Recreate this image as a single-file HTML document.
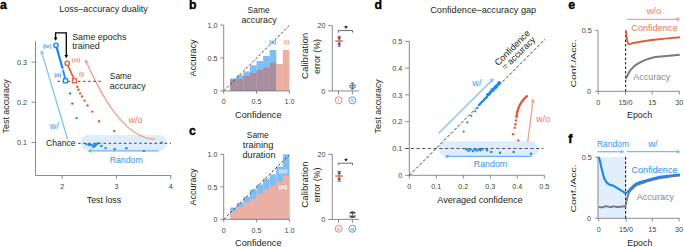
<!DOCTYPE html>
<html><head><meta charset="utf-8"><style>
html,body{margin:0;padding:0;background:#fff;}
svg{display:block;font-family:"Liberation Sans", sans-serif;}
</style></head><body>
<svg width="685" height="247" viewBox="0 0 685 247">
<rect width="685" height="247" fill="#fff"/>
<text x="0" y="8.6" font-size="12.3" fill="#000" text-anchor="start" font-weight="bold" stroke="#000" stroke-width="0.35">a</text>
<text x="103.5" y="12.4" font-size="9" fill="#231f20" text-anchor="middle" textLength="88.5" lengthAdjust="spacingAndGlyphs" >Loss–accuracy duality</text>
<text x="8.8" y="106.3" font-size="8.6" fill="#231f20" text-anchor="middle" textLength="54.2" lengthAdjust="spacingAndGlyphs" transform="rotate(-90 8.8 106.3)" >Test accuracy</text>
<line x1="35.5" y1="41" x2="35.5" y2="175.5" stroke="#6d6e71" stroke-width="0.8" />
<line x1="35.5" y1="175.5" x2="171" y2="175.5" stroke="#6d6e71" stroke-width="0.8" />
<line x1="31.5" y1="62" x2="35.5" y2="62" stroke="#6d6e71" stroke-width="0.8" />
<text x="27" y="64.6" font-size="7.2" fill="#414042" text-anchor="end" >0.3</text>
<line x1="31.5" y1="102.2" x2="35.5" y2="102.2" stroke="#6d6e71" stroke-width="0.8" />
<text x="27" y="104.8" font-size="7.2" fill="#414042" text-anchor="end" >0.2</text>
<line x1="31.5" y1="142.5" x2="35.5" y2="142.5" stroke="#6d6e71" stroke-width="0.8" />
<text x="27" y="145.1" font-size="7.2" fill="#414042" text-anchor="end" >0.1</text>
<line x1="62.2" y1="175.5" x2="62.2" y2="179" stroke="#6d6e71" stroke-width="0.8" />
<text x="62.2" y="189.3" font-size="7.2" fill="#414042" text-anchor="middle" >2</text>
<line x1="116.4" y1="175.5" x2="116.4" y2="179" stroke="#6d6e71" stroke-width="0.8" />
<text x="116.4" y="189.3" font-size="7.2" fill="#414042" text-anchor="middle" >3</text>
<line x1="170.7" y1="175.5" x2="170.7" y2="179" stroke="#6d6e71" stroke-width="0.8" />
<text x="170.7" y="189.3" font-size="7.2" fill="#414042" text-anchor="middle" >4</text>
<text x="104" y="202.9" font-size="8.8" fill="#231f20" text-anchor="middle" textLength="34.5" lengthAdjust="spacingAndGlyphs" >Test loss</text>
<rect x="80.5" y="135" width="86.5" height="15.8" rx="7.9" fill="#ddedfc"/>
<line x1="78" y1="143.3" x2="171" y2="143.3" stroke="#444" stroke-width="1.0" stroke-dasharray="2.5 2.6" />
<text x="46" y="146.3" font-size="9" fill="#231f20" text-anchor="start" textLength="29.5" lengthAdjust="spacingAndGlyphs" >Chance</text>
<line x1="158.5" y1="150.9" x2="89.84" y2="150.9" stroke="#6cb0f3" stroke-width="1.3" />
<path d="M87.50,150.90 L91.40,148.75 L91.40,153.05 Z" fill="#6cb0f3"/>
<text x="126.2" y="162.6" font-size="9" fill="#3195f0" text-anchor="middle" textLength="33" lengthAdjust="spacingAndGlyphs" >Random</text>
<line x1="67.6" y1="139.2" x2="41.78418508942997" y2="52.40041099880037" stroke="#8cc3f5" stroke-width="1.4" />
<path d="M41.10,50.10 L44.35,53.31 L40.13,54.56 Z" fill="#8cc3f5"/>
<text x="49.8" y="129.3" font-size="9" fill="#3d9cf2" text-anchor="start" textLength="9.2" lengthAdjust="spacingAndGlyphs" >w/</text>
<path d="M86.2,61.6 C98.3,88.3 121.8,138.5 155.3,139.4" stroke="#f0a592" stroke-width="1.35" fill="none" />
<path d="M85.10,59.10 L88.75,61.84 L84.74,63.65 Z" fill="#f0a592"/>
<text x="128.5" y="122.5" font-size="9" fill="#e77b5f" text-anchor="start" >w/o</text>
<path d="M56.6,47.4 L62.7,68.8" stroke="#1a86ee" stroke-width="2.2" fill="none" />
<circle cx="63.2" cy="70.8" r="1.1" fill="#1a86ee"/>
<circle cx="63.625" cy="72.5" r="1.1" fill="#1a86ee"/>
<circle cx="64.05000000000001" cy="74.19999999999999" r="1.1" fill="#1a86ee"/>
<circle cx="64.47500000000001" cy="75.89999999999999" r="1.1" fill="#1a86ee"/>
<circle cx="64.9" cy="77.6" r="1.1" fill="#1a86ee"/>
<path d="M67.8,65.4 L73.9,78.6" stroke="#e35b3b" stroke-width="1.7" fill="none" />
<circle cx="56.0" cy="45.3" r="2.2" fill="white" stroke="#1a86ee" stroke-width="1.4"/>
<circle cx="67.2" cy="63.3" r="2.2" fill="white" stroke="#e35b3b" stroke-width="1.4"/>
<line x1="57.5" y1="81.3" x2="103.3" y2="81.3" stroke="#444" stroke-width="1.0" stroke-dasharray="2.5 2.6" />
<rect x="63.5" y="78.8" width="4" height="4" fill="white" stroke="#1a86ee" stroke-width="1.3"/>
<rect x="72.4" y="78.8" width="4" height="4" fill="white" stroke="#e35b3b" stroke-width="1.3"/>
<text x="47.1" y="47.9" font-size="5.6" fill="#3597f0" text-anchor="middle" font-weight="bold" >(iv)</text>
<text x="57.6" y="76.8" font-size="5.6" fill="#3597f0" text-anchor="middle" font-weight="bold" >(ii)</text>
<text x="76.2" y="61.6" font-size="5.6" fill="#e8846a" text-anchor="middle" font-weight="bold" >(iii)</text>
<text x="81.6" y="76.3" font-size="5.6" fill="#e8846a" text-anchor="middle" font-weight="bold" >(i)</text>
<path d="M55.6,39 L55.6,32.8 L66.3,32.8 L66.3,56" stroke="#000" stroke-width="1.3" fill="none" />
<path d="M55.60,40.80 L53.70,37.60 L57.50,37.60 Z" fill="#000"/>
<path d="M66.30,58.20 L64.40,55.00 L68.20,55.00 Z" fill="#000"/>
<text x="72.2" y="39.6" font-size="8.6" fill="#231f20" text-anchor="start" textLength="54.3" lengthAdjust="spacingAndGlyphs" >Same epochs</text>
<text x="72.2" y="49.4" font-size="8.6" fill="#231f20" text-anchor="start" textLength="27.6" lengthAdjust="spacingAndGlyphs" >trained</text>
<text x="109.8" y="78.5" font-size="9" fill="#231f20" text-anchor="start" textLength="22" lengthAdjust="spacingAndGlyphs" >Same</text>
<text x="109.8" y="88.7" font-size="9" fill="#231f20" text-anchor="start" textLength="36" lengthAdjust="spacingAndGlyphs" >accuracy</text>
<circle cx="77.3" cy="86.8" r="1.2" fill="#e35b3b"/>
<circle cx="78.5" cy="89.7" r="1.2" fill="#e35b3b"/>
<circle cx="80.2" cy="93.4" r="1.2" fill="#e35b3b"/>
<circle cx="82.1" cy="96.5" r="1.2" fill="#e35b3b"/>
<circle cx="84.6" cy="100.6" r="1.2" fill="#e35b3b"/>
<circle cx="87.5" cy="105.5" r="1.2" fill="#e35b3b"/>
<circle cx="92.3" cy="111.6" r="1.2" fill="#e35b3b"/>
<circle cx="99.1" cy="121.3" r="1.2" fill="#e35b3b"/>
<circle cx="114.2" cy="131" r="1.2" fill="#e35b3b"/>
<circle cx="70" cy="93.4" r="1.2" fill="#1a86ee"/>
<circle cx="72.4" cy="103.6" r="1.2" fill="#1a86ee"/>
<circle cx="76.6" cy="118.1" r="1.2" fill="#1a86ee"/>
<circle cx="86.3" cy="144.1" r="1.2" fill="#1a86ee"/>
<circle cx="88.7" cy="144.7" r="1.2" fill="#1a86ee"/>
<circle cx="91.4" cy="145" r="1.2" fill="#1a86ee"/>
<circle cx="93.2" cy="146.9" r="1.2" fill="#1a86ee"/>
<circle cx="95" cy="146" r="1.2" fill="#1a86ee"/>
<circle cx="97.8" cy="143.2" r="1.2" fill="#1a86ee"/>
<circle cx="101.4" cy="146" r="1.2" fill="#1a86ee"/>
<circle cx="105.6" cy="148.1" r="1.2" fill="#1a86ee"/>
<circle cx="114.7" cy="149.2" r="1.2" fill="#1a86ee"/>
<circle cx="126.4" cy="148.3" r="1.2" fill="#1a86ee"/>
<circle cx="143.9" cy="150.9" r="1.2" fill="#1a86ee"/>
<circle cx="161.5" cy="142.7" r="1.2" fill="#1a86ee"/>
<circle cx="89.8" cy="144.2" r="1.2" fill="#1a86ee"/>
<circle cx="94.2" cy="145.0" r="1.2" fill="#1a86ee"/>
<circle cx="96.5" cy="144.5" r="1.2" fill="#1a86ee"/>
<text x="189.0" y="8.6" font-size="12.3" fill="#000" text-anchor="start" font-weight="bold" stroke="#000" stroke-width="0.35">b</text>
<text x="258.6" y="12.5" font-size="9" fill="#231f20" text-anchor="middle" textLength="22" lengthAdjust="spacingAndGlyphs" >Same</text>
<text x="259.1" y="22.8" font-size="9" fill="#231f20" text-anchor="middle" textLength="35.3" lengthAdjust="spacingAndGlyphs" >accuracy</text>
<rect x="230.27" y="78.4" width="6.62" height="12.50" fill="#80bdf4"/>
<rect x="236.84" y="75" width="6.62" height="15.90" fill="#80bdf4"/>
<rect x="243.41" y="71.5" width="6.62" height="19.40" fill="#80bdf4"/>
<rect x="249.98" y="65.3" width="6.62" height="25.60" fill="#80bdf4"/>
<rect x="256.55" y="61" width="6.62" height="29.90" fill="#80bdf4"/>
<rect x="263.12" y="56" width="6.62" height="34.90" fill="#80bdf4"/>
<rect x="269.69" y="50" width="6.62" height="40.90" fill="#80bdf4"/>
<rect x="230.27" y="79.5" width="6.62" height="11.40" fill="#a88e9f"/>
<rect x="236.84" y="78.8" width="6.62" height="12.10" fill="#a88e9f"/>
<rect x="243.41" y="75.8" width="6.62" height="15.10" fill="#a88e9f"/>
<rect x="249.98" y="73" width="6.62" height="17.90" fill="#a88e9f"/>
<rect x="256.55" y="70" width="6.62" height="20.90" fill="#a88e9f"/>
<rect x="263.12" y="67.5" width="6.62" height="23.40" fill="#a88e9f"/>
<rect x="269.69" y="62.7" width="6.62" height="28.20" fill="#a88e9f"/>
<rect x="276.26" y="63.9" width="6.62" height="27.00" fill="#edafa1"/>
<rect x="282.83" y="50" width="6.62" height="40.90" fill="#edafa1"/>
<line x1="223.7" y1="90.9" x2="289.09999999999997" y2="25.6" stroke="#444" stroke-width="1.0" stroke-dasharray="2.6 1.9" />
<line x1="223.7" y1="25.0" x2="223.7" y2="90.9" stroke="#6d6e71" stroke-width="0.8" />
<line x1="223.7" y1="90.9" x2="289.4" y2="90.9" stroke="#6d6e71" stroke-width="0.8" />
<line x1="220.2" y1="25.0" x2="223.7" y2="25.0" stroke="#6d6e71" stroke-width="0.8" />
<text x="217.6" y="27.6" font-size="7.2" fill="#414042" text-anchor="end" >1.0</text>
<line x1="220.2" y1="57.95" x2="223.7" y2="57.95" stroke="#6d6e71" stroke-width="0.8" />
<text x="217.6" y="60.550000000000004" font-size="7.2" fill="#414042" text-anchor="end" >0.5</text>
<line x1="220.2" y1="90.9" x2="223.7" y2="90.9" stroke="#6d6e71" stroke-width="0.8" />
<text x="217.6" y="93.5" font-size="7.2" fill="#414042" text-anchor="end" >0</text>
<line x1="223.7" y1="90.9" x2="223.7" y2="93.9" stroke="#6d6e71" stroke-width="0.8" />
<text x="223.7" y="104.10000000000001" font-size="7.2" fill="#414042" text-anchor="middle" >0</text>
<line x1="256.54999999999995" y1="90.9" x2="256.54999999999995" y2="93.9" stroke="#6d6e71" stroke-width="0.8" />
<text x="256.54999999999995" y="104.10000000000001" font-size="7.2" fill="#414042" text-anchor="middle" >0.5</text>
<line x1="289.4" y1="90.9" x2="289.4" y2="93.9" stroke="#6d6e71" stroke-width="0.8" />
<text x="289.4" y="104.10000000000001" font-size="7.2" fill="#414042" text-anchor="middle" >1.0</text>
<text x="196.4" y="57.95" font-size="8.6" fill="#231f20" text-anchor="middle" textLength="37.2" lengthAdjust="spacingAndGlyphs" transform="rotate(-90 196.4 57.95)" >Accuracy</text>
<text x="258.3" y="117.7" font-size="9" fill="#231f20" text-anchor="middle" textLength="46.5" lengthAdjust="spacingAndGlyphs" >Confidence</text>
<text x="272.7" y="44.4" font-size="5.6" fill="#3d9cf2" text-anchor="middle" font-weight="bold" >(ii)</text>
<text x="286.7" y="44.4" font-size="5.6" fill="#ea8a70" text-anchor="middle" font-weight="bold" >(i)</text>
<line x1="332.3" y1="25.6" x2="332.3" y2="90.9" stroke="#6d6e71" stroke-width="0.8" />
<line x1="328.2" y1="25.6" x2="332.3" y2="25.6" stroke="#6d6e71" stroke-width="0.8" />
<line x1="327.9" y1="90.9" x2="359.1" y2="90.9" stroke="#6d6e71" stroke-width="0.8" />
<text x="325.6" y="28.200000000000003" font-size="7.2" fill="#414042" text-anchor="end" >20</text>
<text x="325.2" y="93.5" font-size="7.2" fill="#414042" text-anchor="end" >0</text>
<line x1="338.5" y1="90.9" x2="338.5" y2="94.4" stroke="#6d6e71" stroke-width="0.8" />
<line x1="352.4" y1="90.9" x2="352.4" y2="94.4" stroke="#6d6e71" stroke-width="0.8" />
<circle cx="338.7" cy="100.30000000000001" r="3.5" fill="none" stroke="#ea8a70" stroke-width="1.0"/>
<circle cx="352.3" cy="100.30000000000001" r="3.5" fill="none" stroke="#4aa0f0" stroke-width="1.0"/>
<text x="338.7" y="102.10000000000001" font-size="4.6" fill="#ea8a70" text-anchor="middle" font-weight="bold" textLength="1.3" lengthAdjust="spacingAndGlyphs" >i</text>
<text x="352.3" y="102.10000000000001" font-size="4.6" fill="#4aa0f0" text-anchor="middle" font-weight="bold" textLength="2.4" lengthAdjust="spacingAndGlyphs" >ii</text>
<path d="M338.3,32.6 L338.3,30.6 L352.5,30.6 L352.5,32.6" stroke="#444" stroke-width="0.8" fill="none" />
<polygon points="346.00,25.00 346.53,26.37 348.00,26.45 346.86,27.38 347.23,28.80 346.00,28.00 344.77,28.80 345.14,27.38 344.00,26.45 345.47,26.37" fill="#222"/>
<line x1="339.2" y1="36.4" x2="339.2" y2="46.3" stroke="#555" stroke-width="0.8" />
<line x1="337.4" y1="36.4" x2="341.0" y2="36.4" stroke="#555" stroke-width="0.8" />
<line x1="337.4" y1="46.3" x2="341.0" y2="46.3" stroke="#555" stroke-width="0.8" />
<line x1="337.8" y1="37.8" x2="340.6" y2="37.8" stroke="#333" stroke-width="0.9" />
<line x1="337.8" y1="38.8" x2="340.6" y2="38.8" stroke="#333" stroke-width="0.9" />
<line x1="337.8" y1="43.2" x2="340.6" y2="43.2" stroke="#333" stroke-width="0.9" />
<line x1="337.8" y1="44.4" x2="340.6" y2="44.4" stroke="#333" stroke-width="0.9" />
<line x1="335.2" y1="41.0" x2="343.0" y2="41.0" stroke="#e35b3b" stroke-width="1.3" />
<line x1="352.5" y1="83.2" x2="352.5" y2="89.10000000000001" stroke="#555" stroke-width="0.8" />
<line x1="350.8" y1="83.2" x2="354.2" y2="83.2" stroke="#333" stroke-width="0.9" />
<line x1="350.8" y1="88.8" x2="354.2" y2="88.8" stroke="#333" stroke-width="0.9" />
<line x1="349.2" y1="85.3" x2="355.9" y2="85.3" stroke="#1a86ee" stroke-width="1.1" />
<line x1="349.2" y1="87.10000000000001" x2="355.9" y2="87.10000000000001" stroke="#1a86ee" stroke-width="1.1" />
<text x="308.5" y="55.95" font-size="8.4" fill="#231f20" text-anchor="middle" textLength="46.3" lengthAdjust="spacingAndGlyphs" transform="rotate(-90 308.5 55.95)" >Calibration</text>
<text x="319.6" y="56.45" font-size="8.4" fill="#231f20" text-anchor="middle" textLength="35" lengthAdjust="spacingAndGlyphs" transform="rotate(-90 319.6 56.45)" >error (%)</text>
<text x="189.0" y="134.8" font-size="12.3" fill="#000" text-anchor="start" font-weight="bold" stroke="#000" stroke-width="0.35">c</text>
<text x="257.8" y="137.7" font-size="9" fill="#231f20" text-anchor="middle" textLength="22" lengthAdjust="spacingAndGlyphs" >Same</text>
<text x="258.1" y="147.7" font-size="9" fill="#231f20" text-anchor="middle" textLength="30.6" lengthAdjust="spacingAndGlyphs" >training</text>
<text x="259.0" y="157.7" font-size="9" fill="#231f20" text-anchor="middle" textLength="33" lengthAdjust="spacingAndGlyphs" >duration</text>
<rect x="230.27" y="207.5" width="6.62" height="11.80" fill="#80bdf4"/>
<rect x="236.84" y="202.7" width="6.62" height="16.60" fill="#80bdf4"/>
<rect x="243.41" y="196.6" width="6.62" height="22.70" fill="#80bdf4"/>
<rect x="249.98" y="189.5" width="6.62" height="29.80" fill="#80bdf4"/>
<rect x="256.55" y="184.5" width="6.62" height="34.80" fill="#80bdf4"/>
<rect x="263.12" y="178.6" width="6.62" height="40.70" fill="#80bdf4"/>
<rect x="269.69" y="174.4" width="6.62" height="44.90" fill="#80bdf4"/>
<rect x="276.26" y="166.5" width="6.62" height="52.80" fill="#80bdf4"/>
<rect x="282.83" y="154.3" width="6.62" height="65.00" fill="#80bdf4"/>
<rect x="230.27" y="210.9" width="6.62" height="8.40" fill="#edafa1"/>
<rect x="236.84" y="207" width="6.62" height="12.30" fill="#edafa1"/>
<rect x="243.41" y="202.6" width="6.62" height="16.70" fill="#edafa1"/>
<rect x="249.98" y="199" width="6.62" height="20.30" fill="#edafa1"/>
<rect x="256.55" y="193.8" width="6.62" height="25.50" fill="#edafa1"/>
<rect x="263.12" y="189.2" width="6.62" height="30.10" fill="#edafa1"/>
<rect x="269.69" y="185.6" width="6.62" height="33.70" fill="#edafa1"/>
<rect x="276.26" y="181.3" width="6.62" height="38.00" fill="#edafa1"/>
<rect x="282.83" y="175.8" width="6.62" height="43.50" fill="#edafa1"/>
<line x1="223.7" y1="219.3" x2="289.09999999999997" y2="155.2" stroke="#444" stroke-width="1.0" stroke-dasharray="2.6 1.9" />
<line x1="223.7" y1="154.6" x2="223.7" y2="219.3" stroke="#6d6e71" stroke-width="0.8" />
<line x1="223.7" y1="219.3" x2="289.4" y2="219.3" stroke="#6d6e71" stroke-width="0.8" />
<line x1="220.2" y1="154.6" x2="223.7" y2="154.6" stroke="#6d6e71" stroke-width="0.8" />
<text x="217.6" y="157.2" font-size="7.2" fill="#414042" text-anchor="end" >1.0</text>
<line x1="220.2" y1="186.95" x2="223.7" y2="186.95" stroke="#6d6e71" stroke-width="0.8" />
<text x="217.6" y="189.54999999999998" font-size="7.2" fill="#414042" text-anchor="end" >0.5</text>
<line x1="220.2" y1="219.3" x2="223.7" y2="219.3" stroke="#6d6e71" stroke-width="0.8" />
<text x="217.6" y="221.9" font-size="7.2" fill="#414042" text-anchor="end" >0</text>
<line x1="223.7" y1="219.3" x2="223.7" y2="222.3" stroke="#6d6e71" stroke-width="0.8" />
<text x="223.7" y="232.5" font-size="7.2" fill="#414042" text-anchor="middle" >0</text>
<line x1="256.54999999999995" y1="219.3" x2="256.54999999999995" y2="222.3" stroke="#6d6e71" stroke-width="0.8" />
<text x="256.54999999999995" y="232.5" font-size="7.2" fill="#414042" text-anchor="middle" >0.5</text>
<line x1="289.4" y1="219.3" x2="289.4" y2="222.3" stroke="#6d6e71" stroke-width="0.8" />
<text x="289.4" y="232.5" font-size="7.2" fill="#414042" text-anchor="middle" >1.0</text>
<text x="196.4" y="186.95" font-size="8.6" fill="#231f20" text-anchor="middle" textLength="37.2" lengthAdjust="spacingAndGlyphs" transform="rotate(-90 196.4 186.95)" >Accuracy</text>
<text x="258.3" y="246.10000000000002" font-size="9" fill="#231f20" text-anchor="middle" textLength="46.5" lengthAdjust="spacingAndGlyphs" >Confidence</text>
<text x="282.9" y="172.5" font-size="5.6" fill="white" text-anchor="middle" font-weight="bold" >(iv)</text>
<text x="282.9" y="189.3" font-size="5.6" fill="white" text-anchor="middle" font-weight="bold" >(iii)</text>
<line x1="332.3" y1="154.3" x2="332.3" y2="219.4" stroke="#6d6e71" stroke-width="0.8" />
<line x1="328.2" y1="154.3" x2="332.3" y2="154.3" stroke="#6d6e71" stroke-width="0.8" />
<line x1="327.9" y1="219.4" x2="359.1" y2="219.4" stroke="#6d6e71" stroke-width="0.8" />
<text x="325.6" y="156.9" font-size="7.2" fill="#414042" text-anchor="end" >20</text>
<text x="325.2" y="222.0" font-size="7.2" fill="#414042" text-anchor="end" >0</text>
<line x1="338.5" y1="219.4" x2="338.5" y2="222.9" stroke="#6d6e71" stroke-width="0.8" />
<line x1="352.4" y1="219.4" x2="352.4" y2="222.9" stroke="#6d6e71" stroke-width="0.8" />
<circle cx="338.7" cy="228.8" r="3.5" fill="none" stroke="#ea8a70" stroke-width="1.0"/>
<circle cx="352.3" cy="228.8" r="3.5" fill="none" stroke="#4aa0f0" stroke-width="1.0"/>
<text x="338.7" y="230.6" font-size="4.6" fill="#ea8a70" text-anchor="middle" font-weight="bold" textLength="3.6" lengthAdjust="spacingAndGlyphs" >iii</text>
<text x="352.3" y="230.6" font-size="4.6" fill="#4aa0f0" text-anchor="middle" font-weight="bold" textLength="3.6" lengthAdjust="spacingAndGlyphs" >iv</text>
<path d="M338.3,165.20000000000002 L338.3,163.20000000000002 L352.5,163.20000000000002 L352.5,165.20000000000002" stroke="#444" stroke-width="0.8" fill="none" />
<polygon points="346.00,157.60 346.53,158.97 348.00,159.05 346.86,159.98 347.23,161.40 346.00,160.60 344.77,161.40 345.14,159.98 344.00,159.05 345.47,158.97" fill="#222"/>
<line x1="339.2" y1="171.4" x2="339.2" y2="181.3" stroke="#555" stroke-width="0.8" />
<line x1="337.4" y1="171.4" x2="341.0" y2="171.4" stroke="#555" stroke-width="0.8" />
<line x1="337.4" y1="181.3" x2="341.0" y2="181.3" stroke="#555" stroke-width="0.8" />
<line x1="337.8" y1="172.8" x2="340.6" y2="172.8" stroke="#333" stroke-width="0.9" />
<line x1="337.8" y1="173.8" x2="340.6" y2="173.8" stroke="#333" stroke-width="0.9" />
<line x1="337.8" y1="178.2" x2="340.6" y2="178.2" stroke="#333" stroke-width="0.9" />
<line x1="337.8" y1="179.4" x2="340.6" y2="179.4" stroke="#333" stroke-width="0.9" />
<line x1="335.2" y1="176.0" x2="343.0" y2="176.0" stroke="#e35b3b" stroke-width="1.3" />
<line x1="352.5" y1="211.8" x2="352.5" y2="217.70000000000002" stroke="#555" stroke-width="0.8" />
<line x1="350.8" y1="211.8" x2="354.2" y2="211.8" stroke="#333" stroke-width="0.9" />
<line x1="350.8" y1="217.4" x2="354.2" y2="217.4" stroke="#333" stroke-width="0.9" />
<line x1="349.6" y1="212.9" x2="355.4" y2="212.9" stroke="#444" stroke-width="1.5" />
<line x1="349.6" y1="216.60000000000002" x2="355.4" y2="216.60000000000002" stroke="#444" stroke-width="1.6" />
<line x1="349.2" y1="215.8" x2="355.8" y2="215.8" stroke="#4a9ef0" stroke-width="0.9" />
<text x="308.5" y="184.55" font-size="8.4" fill="#231f20" text-anchor="middle" textLength="46.3" lengthAdjust="spacingAndGlyphs" transform="rotate(-90 308.5 184.55)" >Calibration</text>
<text x="319.6" y="185.05" font-size="8.4" fill="#231f20" text-anchor="middle" textLength="35" lengthAdjust="spacingAndGlyphs" transform="rotate(-90 319.6 185.05)" >error (%)</text>
<text x="374.6" y="8.6" font-size="12.3" fill="#000" text-anchor="start" font-weight="bold" stroke="#000" stroke-width="0.35">d</text>
<text x="483.2" y="12.7" font-size="9" fill="#231f20" text-anchor="middle" textLength="106" lengthAdjust="spacingAndGlyphs" >Confidence–accuracy gap</text>
<line x1="409.3" y1="41.3" x2="409.3" y2="175.3" stroke="#6d6e71" stroke-width="0.8" />
<line x1="409.3" y1="175.3" x2="544.4" y2="175.3" stroke="#6d6e71" stroke-width="0.8" />
<line x1="405.2" y1="175.3" x2="409.3" y2="175.3" stroke="#6d6e71" stroke-width="0.8" />
<text x="402.2" y="177.9" font-size="7.2" fill="#414042" text-anchor="end" >0</text>
<line x1="409.3" y1="175.3" x2="409.3" y2="178.5" stroke="#6d6e71" stroke-width="0.8" />
<text x="409.3" y="188.8" font-size="7.2" fill="#414042" text-anchor="middle" >0</text>
<line x1="405.2" y1="148.5" x2="409.3" y2="148.5" stroke="#6d6e71" stroke-width="0.8" />
<text x="402.2" y="151.1" font-size="7.2" fill="#414042" text-anchor="end" >0.1</text>
<line x1="436.3" y1="175.3" x2="436.3" y2="178.5" stroke="#6d6e71" stroke-width="0.8" />
<text x="436.3" y="188.8" font-size="7.2" fill="#414042" text-anchor="middle" >0.1</text>
<line x1="405.2" y1="121.70000000000002" x2="409.3" y2="121.70000000000002" stroke="#6d6e71" stroke-width="0.8" />
<text x="402.2" y="124.30000000000001" font-size="7.2" fill="#414042" text-anchor="end" >0.2</text>
<line x1="463.3" y1="175.3" x2="463.3" y2="178.5" stroke="#6d6e71" stroke-width="0.8" />
<text x="463.3" y="188.8" font-size="7.2" fill="#414042" text-anchor="middle" >0.2</text>
<line x1="405.2" y1="94.9" x2="409.3" y2="94.9" stroke="#6d6e71" stroke-width="0.8" />
<text x="402.2" y="97.5" font-size="7.2" fill="#414042" text-anchor="end" >0.3</text>
<line x1="490.3" y1="175.3" x2="490.3" y2="178.5" stroke="#6d6e71" stroke-width="0.8" />
<text x="490.3" y="188.8" font-size="7.2" fill="#414042" text-anchor="middle" >0.3</text>
<line x1="405.2" y1="68.10000000000001" x2="409.3" y2="68.10000000000001" stroke="#6d6e71" stroke-width="0.8" />
<text x="402.2" y="70.7" font-size="7.2" fill="#414042" text-anchor="end" >0.4</text>
<line x1="517.3" y1="175.3" x2="517.3" y2="178.5" stroke="#6d6e71" stroke-width="0.8" />
<text x="517.3" y="188.8" font-size="7.2" fill="#414042" text-anchor="middle" >0.4</text>
<line x1="405.2" y1="41.30000000000001" x2="409.3" y2="41.30000000000001" stroke="#6d6e71" stroke-width="0.8" />
<text x="402.2" y="43.90000000000001" font-size="7.2" fill="#414042" text-anchor="end" >0.5</text>
<line x1="544.3" y1="175.3" x2="544.3" y2="178.5" stroke="#6d6e71" stroke-width="0.8" />
<text x="544.3" y="188.8" font-size="7.2" fill="#414042" text-anchor="middle" >0.5</text>
<text x="381.4" y="106.3" font-size="8.6" fill="#231f20" text-anchor="middle" textLength="54.2" lengthAdjust="spacingAndGlyphs" transform="rotate(-90 381.4 106.3)" >Test accuracy</text>
<text x="480" y="202.6" font-size="9" fill="#231f20" text-anchor="middle" textLength="85.3" lengthAdjust="spacingAndGlyphs" >Averaged confidence</text>
<rect x="438.5" y="141.2" width="100.4" height="15.3" rx="7.65" fill="#ddedfc"/>
<line x1="405" y1="148.5" x2="543.5" y2="148.5" stroke="#555" stroke-width="1.0" stroke-dasharray="3.3 2.4" />
<line x1="409.3" y1="175.3" x2="545" y2="39.3" stroke="#3a3a3a" stroke-width="1.0" stroke-dasharray="3 1.9" />
<line x1="531.8" y1="156.4" x2="446.84" y2="156.4" stroke="#6cb0f3" stroke-width="1.3" />
<path d="M444.50,156.40 L448.40,154.25 L448.40,158.55 Z" fill="#6cb0f3"/>
<text x="490.5" y="166.7" font-size="9" fill="#3195f0" text-anchor="middle" textLength="33.5" lengthAdjust="spacingAndGlyphs" >Random</text>
<line x1="438.5" y1="133.5" x2="492.2148773771709" y2="79.9786897485126" stroke="#8cc3f5" stroke-width="1.45" />
<path d="M494.00,78.20 L492.66,82.80 L489.39,79.53 Z" fill="#8cc3f5"/>
<text x="472.3" y="85.9" font-size="9" fill="#3d9cf2" text-anchor="start" textLength="9.2" lengthAdjust="spacingAndGlyphs" >w/</text>
<line x1="527.7" y1="142.4" x2="532.9983391064285" y2="100.58096633854612" stroke="#f0a592" stroke-width="1.35" />
<path d="M533.30,98.20 L534.98,102.44 L530.61,101.89 Z" fill="#f0a592"/>
<text x="536.3" y="122.3" font-size="9" fill="#e77b5f" text-anchor="start" >w/o</text>
<text x="514.4" y="50.0" font-size="9" fill="#231f20" text-anchor="middle" textLength="46" lengthAdjust="spacingAndGlyphs" transform="rotate(-45 514.4 50.0)" >Confidence</text>
<text x="520.7" y="55.4" font-size="9" fill="#231f20" text-anchor="middle" textLength="43" lengthAdjust="spacingAndGlyphs" transform="rotate(-45 520.7 55.4)" >= accuracy</text>
<circle cx="463.7" cy="131.6" r="1.1" fill="#1a86ee"/>
<circle cx="467.4" cy="122.4" r="1.1" fill="#1a86ee"/>
<circle cx="471.3" cy="115.8" r="1.1" fill="#1a86ee"/>
<circle cx="475.3" cy="111.3" r="1.1" fill="#1a86ee"/>
<circle cx="477.4" cy="107.9" r="1.1" fill="#1a86ee"/>
<circle cx="478.72" cy="105.25940000000001" r="1.1" fill="#1a86ee"/>
<circle cx="479.42218362168245" cy="104.54364813781153" r="1.1" fill="#1a86ee"/>
<circle cx="480.07468134913023" cy="103.77821038138829" r="1.1" fill="#1a86ee"/>
<circle cx="480.83823691469667" cy="103.12383046308376" r="1.1" fill="#1a86ee"/>
<circle cx="481.4522247372087" cy="102.3198828017249" r="1.1" fill="#1a86ee"/>
<circle cx="482.1775546883798" cy="101.62727726902494" r="1.1" fill="#1a86ee"/>
<circle cx="482.96077709468005" cy="100.99256419145428" r="1.1" fill="#1a86ee"/>
<circle cx="483.5112852514909" cy="100.12513686439418" r="1.1" fill="#1a86ee"/>
<circle cx="484.38251785445146" cy="99.5784339834837" r="1.1" fill="#1a86ee"/>
<circle cx="484.9132151878851" cy="98.69119583304646" r="1.1" fill="#1a86ee"/>
<circle cx="485.7820718218372" cy="98.14211698312744" r="1.1" fill="#1a86ee"/>
<circle cx="486.4768813404502" cy="97.41899101786953" r="1.1" fill="#1a86ee"/>
<circle cx="486.98306081885954" cy="96.50723501240797" r="1.1" fill="#1a86ee"/>
<circle cx="487.41182001496986" cy="95.51805872464729" r="1.1" fill="#1a86ee"/>
<circle cx="488.569381603794" cy="95.25768482960045" r="1.1" fill="#1a86ee"/>
<circle cx="489.1988122554057" cy="94.46917999734127" r="1.1" fill="#1a86ee"/>
<circle cx="489.57613049677184" cy="93.42856275483634" r="1.1" fill="#1a86ee"/>
<circle cx="489.9841606414992" cy="92.41865741569279" r="1.1" fill="#1a86ee"/>
<circle cx="490.97815181497816" cy="91.99471310530078" r="1.1" fill="#1a86ee"/>
<circle cx="491.829455784249" cy="91.4280815907006" r="1.1" fill="#1a86ee"/>
<circle cx="491.94359170153996" cy="90.1242820241206" r="1.1" fill="#1a86ee"/>
<circle cx="493.57462955189743" cy="90.3373843906072" r="1.1" fill="#1a86ee"/>
<circle cx="493.39468027765906" cy="88.73949963249777" r="1.1" fill="#1a86ee"/>
<circle cx="494.7116786799397" cy="88.63856255090752" r="1.1" fill="#1a86ee"/>
<circle cx="495.58026877803576" cy="88.0892171651326" r="1.1" fill="#1a86ee"/>
<circle cx="496.31564512367686" cy="87.40665802690269" r="1.1" fill="#1a86ee"/>
<circle cx="496.7731737988051" cy="86.44625121815999" r="1.1" fill="#1a86ee"/>
<circle cx="496.78662793509" cy="85.04176987057384" r="1.1" fill="#1a86ee"/>
<circle cx="498.33958317734454" cy="85.17678962895742" r="1.1" fill="#1a86ee"/>
<circle cx="498.46276569970433" cy="83.88203666744631" r="1.1" fill="#1a86ee"/>
<circle cx="499.05813541082614" cy="83.0594708946971" r="1.1" fill="#1a86ee"/>
<circle cx="500.14650778420236" cy="82.7299077842024" r="1.1" fill="#1a86ee"/>
<circle cx="487.24321042360464" cy="94.20241042360468" r="1.1" fill="#1a86ee"/>
<circle cx="488.81846680452617" cy="93.57986680452616" r="1.1" fill="#1a86ee"/>
<circle cx="489.9215908534331" cy="92.4851908534331" r="1.1" fill="#1a86ee"/>
<circle cx="490.87816046143706" cy="91.2439604614371" r="1.1" fill="#1a86ee"/>
<circle cx="491.51320802628186" cy="89.68120802628187" r="1.1" fill="#1a86ee"/>
<circle cx="492.86095954044396" cy="88.83115954044402" r="1.1" fill="#1a86ee"/>
<circle cx="494.07213577303077" cy="87.84453577303076" r="1.1" fill="#1a86ee"/>
<circle cx="494.90614937376256" cy="86.4807493737625" r="1.1" fill="#1a86ee"/>
<circle cx="496.13587931115666" cy="85.51267931115667" r="1.1" fill="#1a86ee"/>
<circle cx="497.3862283430736" cy="84.5652283430736" r="1.1" fill="#1a86ee"/>
<circle cx="498.00150810810794" cy="82.98270810810801" r="1.1" fill="#1a86ee"/>
<circle cx="499.194985454945" cy="81.97838545494506" r="1.1" fill="#1a86ee"/>
<circle cx="466.4" cy="149.2" r="1.25" fill="#1a86ee"/>
<circle cx="468.5" cy="150.8" r="1.25" fill="#1a86ee"/>
<circle cx="470.5" cy="149.6" r="1.25" fill="#1a86ee"/>
<circle cx="472.8" cy="150.9" r="1.25" fill="#1a86ee"/>
<circle cx="474.6" cy="149.3" r="1.25" fill="#1a86ee"/>
<circle cx="476.5" cy="150.5" r="1.25" fill="#1a86ee"/>
<circle cx="478.5" cy="149.4" r="1.25" fill="#1a86ee"/>
<circle cx="480.5" cy="150.2" r="1.25" fill="#1a86ee"/>
<circle cx="482.8" cy="149" r="1.25" fill="#1a86ee"/>
<circle cx="487" cy="150.3" r="1.25" fill="#1a86ee"/>
<circle cx="491.2" cy="152" r="1.25" fill="#1a86ee"/>
<circle cx="500" cy="152.8" r="1.25" fill="#1a86ee"/>
<circle cx="513.7" cy="152" r="1.25" fill="#1a86ee"/>
<circle cx="531.1" cy="153.8" r="1.25" fill="#1a86ee"/>
<circle cx="516.5" cy="117.0" r="1.2" fill="#e35b3b"/>
<circle cx="516.6242090486986" cy="115.99679300291541" r="1.2" fill="#e35b3b"/>
<circle cx="516.7698628657812" cy="114.98794946550049" r="1.2" fill="#e35b3b"/>
<circle cx="516.9393586005832" cy="113.97463556851314" r="1.2" fill="#e35b3b"/>
<circle cx="517.1350934024404" cy="112.95801749271136" r="1.2" fill="#e35b3b"/>
<circle cx="517.3594644206888" cy="111.93926141885323" r="1.2" fill="#e35b3b"/>
<circle cx="517.6148688046648" cy="110.9195335276968" r="1.2" fill="#e35b3b"/>
<circle cx="517.9037037037037" cy="109.9" r="1.2" fill="#e35b3b"/>
<circle cx="518.2283662671418" cy="108.8818270165209" r="1.2" fill="#e35b3b"/>
<circle cx="518.5912536443147" cy="107.86618075801748" r="1.2" fill="#e35b3b"/>
<circle cx="518.9947629845589" cy="106.85422740524783" r="1.2" fill="#e35b3b"/>
<circle cx="519.4412914372098" cy="105.84713313896987" r="1.2" fill="#e35b3b"/>
<circle cx="519.9332361516035" cy="104.8460641399417" r="1.2" fill="#e35b3b"/>
<circle cx="520.4729942770758" cy="103.85218658892128" r="1.2" fill="#e35b3b"/>
<circle cx="521.062962962963" cy="102.86666666666665" r="1.2" fill="#e35b3b"/>
<circle cx="521.7055393586006" cy="101.89067055393586" r="1.2" fill="#e35b3b"/>
<circle cx="522.4031206133246" cy="100.92536443148687" r="1.2" fill="#e35b3b"/>
<circle cx="523.1581038764712" cy="99.97191448007774" r="1.2" fill="#e35b3b"/>
<circle cx="523.972886297376" cy="99.03148688046647" r="1.2" fill="#e35b3b"/>
<circle cx="524.8498650253753" cy="98.10524781341107" r="1.2" fill="#e35b3b"/>
<circle cx="525.7914372098045" cy="97.19436345966957" r="1.2" fill="#e35b3b"/>
<circle cx="526.8" cy="96.3" r="1.2" fill="#e35b3b"/>
<circle cx="516" cy="120.5" r="1.2" fill="#e35b3b"/>
<circle cx="515.5" cy="124.3" r="1.2" fill="#e35b3b"/>
<circle cx="514.7" cy="127.8" r="1.2" fill="#e35b3b"/>
<circle cx="513.1" cy="134.3" r="1.2" fill="#e35b3b"/>
<circle cx="518.3" cy="140.4" r="1.2" fill="#e35b3b"/>
<text x="568.2" y="8.6" font-size="12.3" fill="#000" text-anchor="start" font-weight="bold" stroke="#000" stroke-width="0.35">e</text>
<line x1="598.0" y1="30.4" x2="598.0" y2="91.3" stroke="#6d6e71" stroke-width="0.8" />
<line x1="595.2" y1="91.3" x2="679.5" y2="91.3" stroke="#6d6e71" stroke-width="0.8" />
<line x1="595.2" y1="30.4" x2="598.0" y2="30.4" stroke="#6d6e71" stroke-width="0.8" />
<text x="591.8" y="33.0" font-size="7.2" fill="#414042" text-anchor="end" >0.5</text>
<text x="591.0" y="93.89999999999999" font-size="7.2" fill="#414042" text-anchor="end" >0</text>
<line x1="598.2" y1="91.3" x2="598.2" y2="94.5" stroke="#6d6e71" stroke-width="0.8" />
<text x="598.2" y="104.89999999999999" font-size="7.2" fill="#414042" text-anchor="middle" >0</text>
<line x1="625.6" y1="91.3" x2="625.6" y2="94.5" stroke="#6d6e71" stroke-width="0.8" />
<text x="625.6" y="104.89999999999999" font-size="7.2" fill="#414042" text-anchor="middle" >15/0</text>
<line x1="652.2" y1="91.3" x2="652.2" y2="94.5" stroke="#6d6e71" stroke-width="0.8" />
<text x="652.2" y="104.89999999999999" font-size="7.2" fill="#414042" text-anchor="middle" >15</text>
<line x1="679.3" y1="91.3" x2="679.3" y2="94.5" stroke="#6d6e71" stroke-width="0.8" />
<text x="679.3" y="104.89999999999999" font-size="7.2" fill="#414042" text-anchor="middle" >30</text>
<text x="639.6" y="118.1" font-size="9" fill="#231f20" text-anchor="middle" textLength="25" lengthAdjust="spacingAndGlyphs" >Epoch</text>
<text x="576.0" y="63.4" font-size="8.0" fill="#231f20" text-anchor="middle" textLength="48.3" lengthAdjust="spacingAndGlyphs" transform="rotate(-90 576.0 63.4)" >Conf./Acc.</text>
<line x1="625.6" y1="30.4" x2="625.6" y2="91.3" stroke="#222" stroke-width="1.1" stroke-dasharray="2.6 1.9" />
<text x="646.5" y="14.4" font-size="9" fill="#e97e60" text-anchor="start" textLength="14.8" lengthAdjust="spacingAndGlyphs" >w/o</text>
<line x1="626.8" y1="19.3" x2="678.2" y2="19.3" stroke="#f0a28f" stroke-width="1.3" />
<path d="M680.60,19.30 L676.60,21.50 L676.60,17.10 Z" fill="#f0a28f"/>
<text x="654.4" y="30.9" font-size="9" fill="#e8765a" text-anchor="middle" textLength="46.2" lengthAdjust="spacingAndGlyphs" >Confidence</text>
<path d="M625.9,30.4 L626.6,37.2 L627.6,42.2 Q628.3,44.6 629.6,44.2 L632.2,43.3 L640.3,41.8 L650,40.3 L665,38.6 L680,37.3" stroke="#e35b3b" stroke-width="1.9" fill="none" stroke-linejoin="round"/>
<path d="M625.70,79.00 C626.17,78.07 627.57,75.05 628.50,73.40 C629.43,71.75 629.88,70.63 631.30,69.10 C632.72,67.57 634.63,65.73 637.00,64.20 C639.37,62.67 642.43,61.08 645.50,59.90 C648.57,58.72 651.87,57.77 655.40,57.10 C658.93,56.43 662.63,56.28 666.70,55.90 C670.77,55.52 677.62,54.98 679.80,54.80" stroke="#7a7a7a" stroke-width="2.0" fill="none" />
<text x="651.8" y="80.0" font-size="9" fill="#8a8a8a" text-anchor="middle" textLength="37" lengthAdjust="spacingAndGlyphs" >Accuracy</text>
<text x="568.3" y="143.0" font-size="12.3" fill="#000" text-anchor="start" font-weight="bold" stroke="#000" stroke-width="0.35">f</text>
<rect x="598.2" y="157.1" width="27.2" height="61.20000000000002" fill="#e1eefb"/>
<line x1="598.0" y1="157.1" x2="598.0" y2="218.3" stroke="#6d6e71" stroke-width="0.8" />
<line x1="595.2" y1="218.3" x2="679.5" y2="218.3" stroke="#6d6e71" stroke-width="0.8" />
<line x1="595.2" y1="157.1" x2="598.0" y2="157.1" stroke="#6d6e71" stroke-width="0.8" />
<text x="591.8" y="159.7" font-size="7.2" fill="#414042" text-anchor="end" >0.5</text>
<text x="591.0" y="220.9" font-size="7.2" fill="#414042" text-anchor="end" >0</text>
<line x1="598.7" y1="218.3" x2="598.7" y2="221.5" stroke="#6d6e71" stroke-width="0.8" />
<text x="598.7" y="231.60000000000002" font-size="7.2" fill="#414042" text-anchor="middle" >0</text>
<line x1="626.1" y1="218.3" x2="626.1" y2="221.5" stroke="#6d6e71" stroke-width="0.8" />
<text x="626.1" y="231.60000000000002" font-size="7.2" fill="#414042" text-anchor="middle" >15/0</text>
<line x1="652.3" y1="218.3" x2="652.3" y2="221.5" stroke="#6d6e71" stroke-width="0.8" />
<text x="652.3" y="231.60000000000002" font-size="7.2" fill="#414042" text-anchor="middle" >15</text>
<line x1="679.1" y1="218.3" x2="679.1" y2="221.5" stroke="#6d6e71" stroke-width="0.8" />
<text x="679.1" y="231.60000000000002" font-size="7.2" fill="#414042" text-anchor="middle" >30</text>
<text x="639.8" y="245.7" font-size="9" fill="#231f20" text-anchor="middle" textLength="25" lengthAdjust="spacingAndGlyphs" >Epoch</text>
<text x="576.0" y="188.4" font-size="8.0" fill="#231f20" text-anchor="middle" textLength="48.3" lengthAdjust="spacingAndGlyphs" transform="rotate(-90 576.0 188.4)" >Conf./Acc.</text>
<line x1="625.6" y1="157.1" x2="625.6" y2="218.3" stroke="#222" stroke-width="1.1" stroke-dasharray="2.6 1.9" />
<text x="613" y="146.9" font-size="9" fill="#3195f0" text-anchor="middle" textLength="32" lengthAdjust="spacingAndGlyphs" >Random</text>
<text x="653.0" y="146.9" font-size="9" fill="#3195f0" text-anchor="middle" textLength="9.6" lengthAdjust="spacingAndGlyphs" >w/</text>
<line x1="597.4" y1="151.7" x2="622.06" y2="151.7" stroke="#7dbaf4" stroke-width="1.3" />
<path d="M624.40,151.70 L620.50,153.84 L620.50,149.55 Z" fill="#7dbaf4"/>
<line x1="626.8" y1="151.7" x2="678.26" y2="151.7" stroke="#7dbaf4" stroke-width="1.3" />
<path d="M680.60,151.70 L676.70,153.84 L676.70,149.55 Z" fill="#7dbaf4"/>
<text x="654.5" y="172.8" font-size="9" fill="#2a8cf0" text-anchor="middle" textLength="46.2" lengthAdjust="spacingAndGlyphs" >Confidence</text>
<text x="655.4" y="200.2" font-size="9" fill="#8a8a8a" text-anchor="middle" textLength="37.4" lengthAdjust="spacingAndGlyphs" >Accuracy</text>
<path d="M598.80,206.90 C599.33,206.98 600.80,207.50 602.00,207.40 C603.20,207.30 604.67,206.35 606.00,206.30 C607.33,206.25 608.67,207.08 610.00,207.10 C611.33,207.12 612.67,206.42 614.00,206.40 C615.33,206.38 616.67,206.98 618.00,207.00 C619.33,207.02 620.75,206.57 622.00,206.50 C623.25,206.43 624.92,206.58 625.50,206.60" stroke="#7a7a7a" stroke-width="1.9" fill="none" />
<path d="M625.50,206.60 C625.67,205.70 626.10,203.03 626.50,201.20 C626.90,199.37 627.32,197.27 627.90,195.60 C628.48,193.93 629.15,192.43 630.00,191.20 C630.85,189.97 631.83,189.23 633.00,188.20 C634.17,187.17 634.83,186.07 637.00,185.00 C639.17,183.93 642.67,182.85 646.00,181.80 C649.33,180.75 653.17,179.52 657.00,178.70 C660.83,177.88 665.17,177.42 669.00,176.90 C672.83,176.38 678.17,175.82 680.00,175.60" stroke="#7a7a7a" stroke-width="1.9" fill="none" />
<path d="M598.60,156.80 C598.83,157.50 599.58,159.42 600.00,161.00 C600.42,162.58 600.68,164.47 601.10,166.30 C601.52,168.13 602.05,170.25 602.50,172.00 C602.95,173.75 603.35,175.43 603.80,176.80 C604.25,178.17 604.70,179.25 605.20,180.20 C605.70,181.15 606.23,181.85 606.80,182.50 C607.37,183.15 607.98,183.70 608.60,184.10 C609.22,184.50 609.85,184.68 610.50,184.90 C611.15,185.12 611.83,185.17 612.50,185.40 C613.17,185.63 613.42,185.67 614.50,186.30 C615.58,186.93 617.13,188.03 619.00,189.20 C620.87,190.37 624.58,192.62 625.70,193.30 " stroke="#1a86ee" stroke-width="2.1" fill="none" />
<path d="M625.70,193.30 C626.07,193.05 626.95,192.75 627.90,191.80 C628.85,190.85 629.88,189.02 631.40,187.60 C632.92,186.18 634.57,184.50 637.00,183.30 C639.43,182.10 642.70,181.37 646.00,180.40 C649.30,179.43 652.98,178.28 656.80,177.50 C660.62,176.72 665.03,176.20 668.90,175.70 C672.77,175.20 678.15,174.70 680.00,174.50" stroke="#1a86ee" stroke-width="2.1" fill="none" />
</svg>
</body></html>
